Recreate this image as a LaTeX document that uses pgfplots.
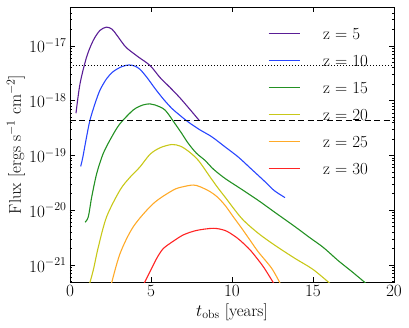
\documentclass[border=0pt]{standalone}
\usepackage{fontspec}
\usepackage{pgfplots}
\pgfplotsset{compat=1.18}
\usetikzlibrary{calc}

\definecolor{cz5}{RGB}{90,30,150}
\definecolor{cz10}{RGB}{40,70,255}
\definecolor{cz15}{RGB}{35,145,35}
\definecolor{cz20}{RGB}{200,200,25}
\definecolor{cz25}{RGB}{255,170,40}
\definecolor{cz30}{RGB}{255,35,35}

\newcommand{\bigfont}{\fontsize{17}{20}\selectfont}

\begin{document}
\begin{tikzpicture}
\begin{axis}[
  name=ax,
  scale only axis,
  width=324bp, height=275bp,
  ymode=log,
  xmin=0, xmax=20, ymin=4.9e-22, ymax=5.1e-17,
  xtick={0,5,10,15,20},
  tick align=inside,
  xtick pos=both, ytick pos=both,
  major tick length=5bp, minor tick length=2.5bp,
  tick style={black, line width=0.5pt},
  axis line style={line width=0.9pt},
  tick label style={font=\bigfont},
  xlabel={$t_{\rm obs}$ [years]},
  ylabel={Flux [ergs s$^{-1}$ cm$^{-2}$]},
  every axis x label/.style={at={(axis description cs:0.5,0)}, anchor=center,
    yshift=-30bp, font=\bigfont},
  every axis y label/.style={at={(axis description cs:-0.167,0.5)}, anchor=center,
    rotate=90, font=\bigfont},
  legend style={draw=none, fill=none, font=\bigfont,
    at={(rel axis cs:0.611,0.925)}, anchor=north west,
    inner sep=0pt, outer sep=0pt,
    nodes={inner sep=0pt, text height=12bp, text depth=0bp},
    row sep=15bp, column sep=23bp},
  legend cell align=left,
  legend image code/.code={\draw[#1, line width=1.1bp] (0bp,0bp) -- (31bp,0bp);},
  every axis plot/.append style={line width=1.1bp, smooth, tension=0.5},
]
% z = 5
\addplot[cz5] coordinates {
  (0.37,5.89e-19)(0.62,2.04e-18)(1.03,6.31e-18)(1.44,1.26e-17)(1.85,1.91e-17)
  (2.26,2.19e-17)(2.6,2.00e-17)(2.88,1.58e-17)(3.2,1.17e-17)(3.5,9.12e-18)
  (4.2,6.31e-18)(4.94,4.37e-18)(5.56,2.63e-18)(6.17,1.74e-18)(6.79,1.12e-18)
  (7.4,6.92e-19)(7.97,4.37e-19)
};
\addlegendentry{z = 5}
% z = 10
\addplot[cz10] coordinates {
  (0.66,6.31e-20)(0.78,8.91e-20)(1.0,2.00e-19)(1.23,4.37e-19)(1.55,8.91e-19)
  (1.85,1.55e-18)(2.26,2.51e-18)(2.67,3.39e-18)(3.2,4.17e-18)(3.64,4.47e-18)
  (4.0,4.27e-18)(4.32,3.72e-18)(4.73,2.69e-18)(5.25,1.66e-18)(5.76,1.07e-18)
  (6.28,7.24e-19)(6.79,5.37e-19)(7.3,4.07e-19)(8.0,2.95e-19)(8.75,2.19e-19)
  (9.6,1.41e-19)(10.39,9.33e-20)(11.2,5.62e-20)(12.04,3.31e-20)(12.6,2.29e-20)
  (13.27,1.70e-20)
};
\addlegendentry{z = 10}
% z = 15
\addplot[cz15] coordinates {
  (0.93,6.03e-21)(1.13,7.59e-21)(1.34,1.74e-20)(1.65,4.68e-20)(2.06,1.10e-19)
  (2.6,2.24e-19)(3.09,3.80e-19)(3.91,6.76e-19)(4.5,8.32e-19)(4.94,8.71e-19)
  (5.25,8.32e-19)(5.86,6.76e-19)(6.48,3.80e-19)(6.9,2.51e-19)(7.3,1.66e-19)
  (7.8,1.10e-19)(8.33,8.13e-20)(8.85,5.62e-20)(9.57,3.80e-20)(10.5,2.51e-20)
  (11.62,1.51e-20)(12.7,8.91e-21)(13.89,5.01e-21)(14.8,3.16e-21)(15.64,2.09e-21)
  (16.56,1.20e-21)(17.4,7.59e-22)(18.25,4.68e-22)
};
\addlegendentry{z = 15}
% z = 20
\addplot[cz20] coordinates {
  (1.2,4.47e-22)(1.44,8.13e-22)(1.75,2.14e-21)(2.26,7.59e-21)(3.09,2.34e-20)
  (3.7,3.98e-20)(4.32,6.17e-20)(4.94,1.05e-19)(5.56,1.38e-19)(6.28,1.58e-19)
  (6.8,1.48e-19)(7.3,1.20e-19)(7.92,8.13e-20)(8.64,4.07e-20)(9.1,2.63e-20)
  (9.57,1.74e-20)(10.6,7.08e-21)(11.62,3.80e-21)(12.65,2.29e-21)(13.89,1.32e-21)
  (15.0,8.32e-22)(16.1,4.47e-22)
};
\addlegendentry{z = 20}
% z = 25
\addplot[cz25] coordinates {
  (2.55,4.47e-22)(3.09,1.62e-21)(3.91,5.01e-21)(5.14,1.32e-20)(6.38,2.34e-20)
  (7.0,2.69e-20)(7.61,2.88e-20)(8.02,2.69e-20)(8.64,2.19e-20)(9.1,1.74e-20)
  (9.57,1.23e-20)(10.08,7.59e-21)(10.6,4.68e-21)(11.1,2.88e-21)(11.62,1.74e-21)
  (12.45,8.71e-22)(13.0,4.47e-22)
};
\addlegendentry{z = 25}
% z = 30
\addplot[cz30] coordinates {
  (4.55,4.47e-22)(4.94,7.59e-22)(5.35,1.32e-21)(5.76,2.00e-21)(6.4,2.75e-21)
  (7.0,3.55e-21)(7.8,4.27e-21)(8.85,4.68e-21)(9.57,4.27e-21)(10.1,3.47e-21)
  (10.5,2.82e-21)(11.1,1.91e-21)(11.6,1.26e-21)(12.0,8.71e-22)(12.61,4.47e-22)
};
\addlegendentry{z = 30}
% detection limits
\addplot[black, line width=0.8bp, sharp plot, dash pattern=on 1bp off 2bp, forget plot]
  coordinates {(0,4.3e-18)(20,4.3e-18)};
\addplot[black, line width=1.2bp, sharp plot, dash pattern=on 6bp off 3.5bp, forget plot]
  coordinates {(0,4.3e-19)(20,4.3e-19)};
\end{axis}
\pgfresetboundingbox
\path ($(ax.south west)+(-70bp,-46bp)$) rectangle ($(ax.north east)+(15bp,7bp)$);
\end{tikzpicture}
\end{document}
